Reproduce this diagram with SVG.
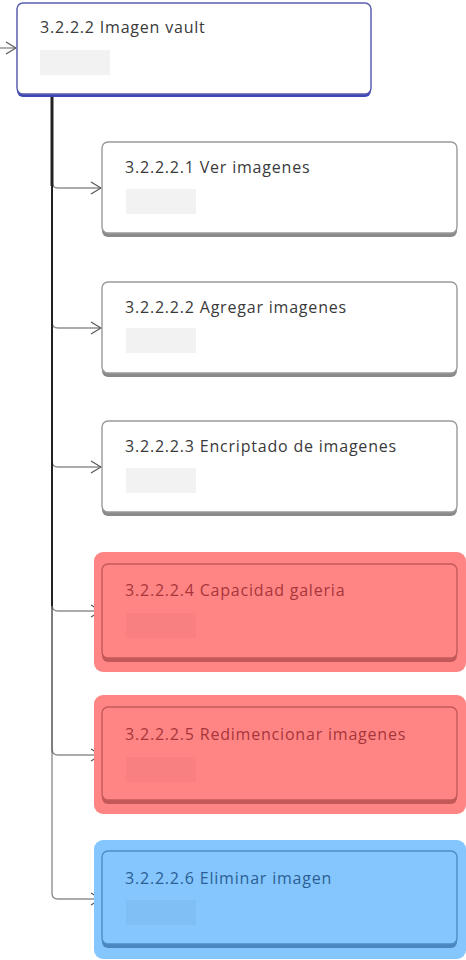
<svg xmlns="http://www.w3.org/2000/svg" width="466" height="960" viewBox="0 0 466 960">
<style>
  .t{font-family:"Open Sans","Noto Sans","Liberation Sans",sans-serif;font-size:16px;letter-spacing:0.8px;}
  .tw{fill:#3a3a3a}
  .tr{fill:#a8353a}
  .tb{fill:#2c5f94}
  .conn{fill:none;stroke:#222;stroke-opacity:0.5;stroke-width:1.4}
  .box{fill:#fff;stroke:#9a9a9a;stroke-width:1.4}
  .sh{fill:#8a8a8a}
  .ph{fill:#f2f2f2}
</style>
<defs>
  <marker id="ah" viewBox="0 0 12 14" refX="11" refY="7" markerWidth="12" markerHeight="14" markerUnits="userSpaceOnUse" orient="auto">
    <path d="M1,1 L11,7 L1,13" fill="none" stroke="#555" stroke-width="1.2"/>
  </marker>
</defs>
<g id="connectors">
  <path class="conn" d="M0,48 H16" marker-end="url(#ah)"/>
  <path d="M52,97 V186" stroke="#222" stroke-width="3" fill="none"/>
  <path d="M52,186 V606" stroke="#2a2a2a" stroke-width="2" fill="none"/>
  <path class="conn" d="M52,97 V182 Q52,188 58,188 H101" marker-end="url(#ah)"/>
  <path class="conn" d="M52,97 V322 Q52,328 58,328 H101" marker-end="url(#ah)"/>
  <path class="conn" d="M52,97 V461 Q52,467 58,467 H101" marker-end="url(#ah)"/>
  <path class="conn" d="M52,97 V605 Q52,611 58,611 H101" marker-end="url(#ah)"/>
  <path class="conn" d="M52,97 V749 Q52,755 58,755 H101" marker-end="url(#ah)"/>
  <path class="conn" d="M52,97 V893 Q52,899 58,899 H101" marker-end="url(#ah)"/>
</g>
<g id="n-root">
  <rect x="17" y="5" width="354" height="92" rx="6" fill="#3f47b5"/>
  <rect x="17" y="3" width="354" height="91" rx="6" fill="#fff" stroke="#5b5fae" stroke-width="1.5"/>
  <text class="t tw" x="40" y="33">3.2.2.2 Imagen vault</text>
  <rect class="ph" x="40" y="50" width="70" height="25"/>
</g>
<g id="n1">
  <rect class="sh" x="102" y="144" width="355" height="93" rx="6"/>
  <rect class="box" x="102" y="142" width="355" height="91" rx="6"/>
  <text class="t tw" x="125" y="173">3.2.2.2.1 Ver imagenes</text>
  <rect class="ph" x="126" y="189" width="70" height="25"/>
</g>
<g id="n2">
  <rect class="sh" x="102" y="284" width="355" height="93" rx="6"/>
  <rect class="box" x="102" y="282" width="355" height="91" rx="6"/>
  <text class="t tw" x="125" y="313">3.2.2.2.2 Agregar imagenes</text>
  <rect class="ph" x="126" y="328" width="70" height="25"/>
</g>
<g id="n3">
  <rect class="sh" x="102" y="423" width="355" height="93" rx="6"/>
  <rect class="box" x="102" y="421" width="355" height="91" rx="6"/>
  <text class="t tw" x="125" y="452">3.2.2.2.3 Encriptado de imagenes</text>
  <rect class="ph" x="126" y="468" width="70" height="25"/>
</g>
<g id="n4">
  <rect x="94" y="552" width="372" height="120" rx="9" fill="#ff8585"/>
  <rect x="102" y="566" width="355" height="96" rx="6" fill="#c45858"/>
  <rect x="102" y="564" width="355" height="94" rx="6" fill="#ff8585" stroke="#c35a5a" stroke-width="1.4"/>
  <text class="t tr" x="125" y="596">3.2.2.2.4 Capacidad galeria</text>
  <rect x="126" y="613" width="70" height="25" fill="#f88080"/>
</g>
<g id="n5">
  <rect x="94" y="695" width="372" height="119" rx="9" fill="#ff8585"/>
  <rect x="102" y="709" width="355" height="95" rx="6" fill="#c45858"/>
  <rect x="102" y="707" width="355" height="93" rx="6" fill="#ff8585" stroke="#c35a5a" stroke-width="1.4"/>
  <text class="t tr" x="125" y="740">3.2.2.2.5 Redimencionar imagenes</text>
  <rect x="126" y="757" width="70" height="25" fill="#f88080"/>
</g>
<g id="n6">
  <rect x="94" y="840" width="372" height="119" rx="9" fill="#85c6ff"/>
  <rect x="102" y="853" width="355" height="95" rx="6" fill="#4a86c0"/>
  <rect x="102" y="851" width="355" height="93" rx="6" fill="#85c6ff" stroke="#4f8cc6" stroke-width="1.4"/>
  <text class="t tb" x="125" y="884">3.2.2.2.6 Eliminar imagen</text>
  <rect x="126" y="900" width="70" height="25" fill="#80bff5"/>
</g>
</svg>
